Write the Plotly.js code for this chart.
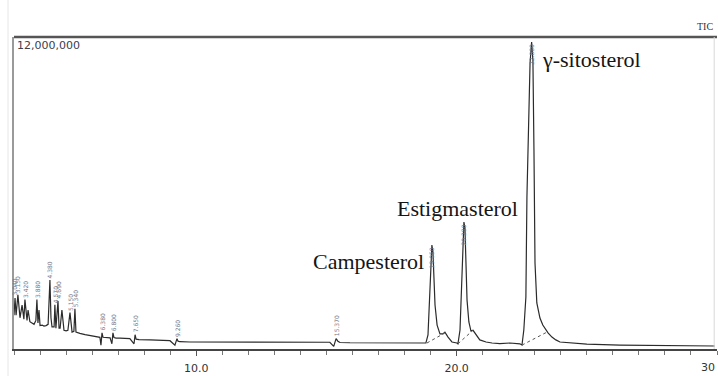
<!DOCTYPE html>
<html>
<head>
<meta charset="utf-8">
<script src="https://cdn.plot.ly/plotly-3.0.1.min.js"></script>
<style>html,body{margin:0;padding:0;background:#fff;}#chart{width:718px;height:376px;}</style>
</head>
<body>
<div id="chart"></div>
<script>
// Retention time (min)
const time = [
  3.00,3.04,3.08,3.15,3.23,3.31,3.38,3.42,3.50,3.54,3.61,3.69,3.77,3.84,3.88,3.92,3.96,4.00,
  4.08,4.15,4.23,4.31,4.34,4.38,4.42,4.46,4.54,4.57,4.61,4.69,4.73,4.77,4.84,4.92,5.00,5.07,
  5.15,5.23,5.30,5.34,5.38,5.46,5.53,5.73,5.92,6.11,6.30,6.34,6.38,6.42,6.53,6.69,6.76,6.80,
  6.84,6.92,7.07,7.45,7.61,7.65,7.69,7.80,8.22,8.61,8.99,9.18,9.26,9.30,9.37,9.76,10.14,12.06,
  13.98,15.13,15.28,15.37,15.44,15.52,15.90,17.82,18.82,18.90,18.94,18.98,19.02,19.05,19.09,19.13,
  19.17,19.25,19.36,19.47,19.55,19.67,19.82,20.01,20.05,20.13,20.17,20.20,20.24,20.28,20.32,20.36,
  20.40,20.47,20.55,20.63,20.74,20.89,21.13,21.36,21.66,22.05,22.43,22.51,22.58,22.66,22.70,22.82,
  22.88,22.93,22.97,22.99,23.01,23.08,23.20,23.31,23.51,23.66,23.81,23.97,24.35,25.00,26.27,28.57,
  29.92
];
// TIC intensity (counts)
const intensity = [
  1.30e6,1.96e6,1.30e6,2.08e6,1.20e6,1.69e6,1.15e6,1.90e6,1.10e6,1.50e6,1.05e6,1.00e6,0.95e6,1.10e6,1.90e6,1.00e6,1.50e6,0.90e6,
  0.92e6,0.88e6,0.90e6,0.95e6,1.60e6,2.65e6,1.20e6,0.85e6,0.85e6,1.70e6,0.80e6,1.85e6,0.80e6,0.80e6,1.50e6,0.72e6,0.70e6,0.72e6,
  1.40e6,0.65e6,0.68e6,1.55e6,0.65e6,0.62e6,0.60e6,0.55e6,0.52e6,0.50e6,0.45e6,0.15e6,0.62e6,0.45e6,0.44e6,0.43e6,0.20e6,0.62e6,
  0.44e6,0.42e6,0.42e6,0.40e6,0.20e6,0.55e6,0.38e6,0.36e6,0.35e6,0.34e6,0.32e6,0.15e6,0.40e6,0.30e6,0.28e6,0.27e6,0.27e6,0.26e6,
  0.27e6,0.26e6,0.10e6,0.40e6,0.30e6,0.25e6,0.24e6,0.23e6,0.23e6,0.54e6,1.50e6,2.85e6,3.81e6,4.00e6,3.73e6,2.65e6,
  1.69e6,0.92e6,0.58e6,0.58e6,0.65e6,0.46e6,0.27e6,0.23e6,0.20e6,0.73e6,1.88e6,3.04e6,4.38e6,4.88e6,4.65e6,3.23e6,
  1.88e6,1.04e6,0.69e6,0.72e6,0.54e6,0.35e6,0.27e6,0.23e6,0.21e6,0.23e6,0.20e6,0.15e6,0.73e6,2.00e6,5.85e6,11.00e6,
  11.81e6,11.10e6,7.65e6,5.73e6,3.31e6,1.77e6,1.19e6,0.92e6,0.62e6,0.46e6,0.35e6,0.27e6,0.23e6,0.19e6,0.15e6,0.13e6,
  0.115e6
];
// Integration baselines (dashed)
const baseSitoT = [22.51, 23.47], baseSitoI = [0.15e6, 0.65e6];
const baseEstiT = [20.05, 20.63], baseEstiI = [0.20e6, 0.72e6];
const baseCampT = [18.86, 19.55], baseCampI = [0.23e6, 0.62e6];

// Small peak retention-time labels
const smallPeaks = [3.04,3.15,3.42,3.88,4.38,4.57,4.69,5.15,5.34,6.38,6.80,7.65,9.26,15.37];
const mainPeaks = [19.05,20.28,22.88];

// Compound names
const compounds = ["Campesterol","Estigmasterol","γ-sitosterol"];
const compoundX = [16.63, 20.03, 25.18];
const compoundY = [3.35e6, 5.42e6, 11.12e6];

const xTickVals = [10,20];
const xTickText = ["10.0","20.0"];
const xEndVal = 30;
const xEndText = "30";
const yMaxLabel = "12,000,000";

function valAt(t){ const i = time.indexOf(t); return i>=0 ? intensity[i] : 0; }

const traces = [
  {x: time, y: intensity, type:'scatter', mode:'lines', line:{color:'#2b2b2b', width:1.2}, hoverinfo:'skip'},
  {x: baseSitoT, y: baseSitoI, type:'scatter', mode:'lines', line:{color:'#555', width:1, dash:'dot'}},
  {x: baseEstiT, y: baseEstiI, type:'scatter', mode:'lines', line:{color:'#555', width:1, dash:'dot'}},
  {x: baseCampT, y: baseCampI, type:'scatter', mode:'lines', line:{color:'#555', width:1, dash:'dot'}}
];

const annotations = [];
compounds.forEach((c,i)=>{
  annotations.push({x: compoundX[i], y: compoundY[i], xref:'x', yref:'y', text:c, showarrow:false,
    xanchor:'center', yanchor:'middle', font:{family:'Liberation Serif, serif', size:22, color:'#151515'}});
});
smallPeaks.forEach(t=>{
  annotations.push({x:t, y:valAt(t), xref:'x', yref:'y', text:t.toFixed(3), showarrow:false, textangle:-90,
    xanchor:'center', yanchor:'bottom', font:{family:'DejaVu Sans', size:6, color:'#6f7585'}});
});
mainPeaks.forEach(t=>{
  annotations.push({x:t, y:valAt(t), xref:'x', yref:'y', text:t.toFixed(3), showarrow:false, textangle:-90,
    xanchor:'center', yanchor:'top', font:{family:'DejaVu Sans', size:6, color:'#6f7585'}});
});
annotations.push({x:0.002, y:0.974, xref:'paper', yref:'paper', text:yMaxLabel, showarrow:false,
  xanchor:'left', yanchor:'middle', font:{family:'DejaVu Sans', size:11, color:'#3a4050'}});
annotations.push({x:0.997, y:1.01, xref:'paper', yref:'paper', text:'TIC', showarrow:false,
  xanchor:'right', yanchor:'bottom', font:{family:'Liberation Serif, serif', size:10, color:'#333'}});
annotations.push({x:xEndVal, y:-0.058, xref:'x', yref:'paper', text:xEndText, showarrow:false,
  xanchor:'right', yanchor:'middle', font:{family:'DejaVu Sans', size:11, color:'#333'}});

const layout = {
  width:718, height:376,
  margin:{l:14, r:1, t:37, b:27, pad:0},
  paper_bgcolor:'#fff', plot_bgcolor:'#fff',
  showlegend:false,
  xaxis:{range:[3,30], showgrid:false, zeroline:false, showline:true, linecolor:'#444', linewidth:1.5,
    ticks:'outside', ticklen:5, tickcolor:'#555', tickwidth:1, tickvals:xTickVals, ticktext:xTickText,
    ticklabelstandoff:3,
    tickfont:{family:'DejaVu Sans', size:11, color:'#333'},
    minor:{dtick:1, tick0:0, ticks:'outside', ticklen:4, tickcolor:'#777', tickwidth:1, showgrid:false}},
  yaxis:{range:[0,12e6], showgrid:false, zeroline:false, showline:true, linecolor:'#9a9a9a', linewidth:2,
    showticklabels:false, ticks:''},
  shapes:[
    {type:'line', xref:'paper', yref:'paper', x0:0, x1:1, y0:1, y1:1, line:{color:'#555', width:2.5}},
    {type:'line', xref:'paper', yref:'paper', x0:0.996, x1:0.996, y0:0, y1:1, line:{color:'#d8d8d8', width:1}},
    {type:'line', xref:'paper', yref:'paper', x0:-0.0085, x1:-0.0085, y0:-0.09, y1:1.12, line:{color:'#e6e6e6', width:1}}
  ],
  annotations: annotations
};

Plotly.newPlot('chart', traces, layout, {staticPlot:true, displayModeBar:false});
</script>
</body>
</html>
